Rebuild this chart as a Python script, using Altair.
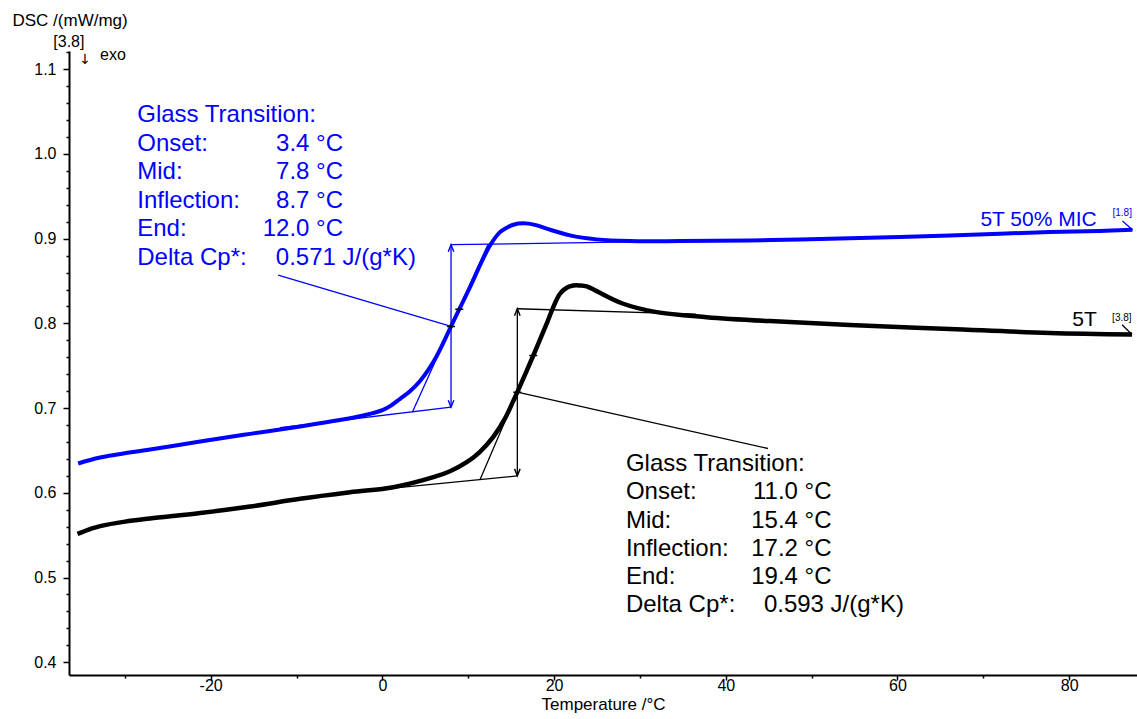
import altair as alt
import pandas as pd

FONT = "Liberation Sans"
BLUE = "#0000ff"
BLACK = "#000000"

# ---- measured curves (Temperature / °C, DSC / (mW/mg)) ----
blue_T = [-35.43, -32.87, -27.05, -21.22, -15.40, -9.58, -4.14, -2.00, 0.08, 1.00, 2.06, 3.22,
          4.39, 6.14, 8.00, 8.96, 10.21, 11.37, 12.54, 13.70, 14.48, 15.25, 16.42, 17.78,
          19.14, 21.85, 24.96, 28.84, 34.66, 42.81, 48.63, 60.27, 66.10, 77.74, 83.56, 87.37]
blue_dsc = [0.6346, 0.6416, 0.6511, 0.6605, 0.6696, 0.6783, 0.6874, 0.6918, 0.6980, 0.7030, 0.7110, 0.7200,
            0.7320, 0.7580, 0.7964, 0.8168, 0.8428, 0.8685, 0.8921, 0.9078, 0.9130, 0.9165, 0.9181, 0.9163,
            0.9118, 0.9039, 0.8992, 0.8972, 0.8972, 0.8980, 0.8992, 0.9021, 0.9039, 0.9078, 0.9092, 0.9106]

black_T = [-35.51, -34.03, -32.87, -29.96, -27.05, -21.22, -15.40, -9.58, -3.76, 1.28, 5.94,
           7.88, 9.83, 11.37, 12.92, 14.29, 15.25, 15.72, 17.58, 19.14, 19.91, 20.69, 21.47,
           22.24, 23.02, 23.80, 24.96, 28.06, 31.95, 37.77, 45.14, 54.45, 66.10, 77.74, 87.32]
black_dsc = [0.5515, 0.5572, 0.5607, 0.5660, 0.5696, 0.5761, 0.5838, 0.5929, 0.6006, 0.6066, 0.6184,
             0.6255, 0.6361, 0.6484, 0.6660, 0.6879, 0.7085, 0.7188, 0.7621, 0.7996, 0.8192, 0.8350, 0.8421,
             0.8448, 0.8448, 0.8437, 0.8381, 0.8232, 0.8133, 0.8074, 0.8027, 0.7982, 0.7934, 0.7887, 0.7869]

# ---- glass transition evaluation (construction lines) ----
seg_T1 = [-11.91, 3.49, 8.00, 8.00, -12.14, 86.20,
          0.08, 11.37, 15.72, 15.72, 15.72, 86.16]
seg_v1 = [0.6768, 0.6952, 0.8929, 0.7011, 0.8569, 0.9208,
          0.6043, 0.6153, 0.8173, 0.6200, 0.7188, 0.7984]
seg_T2 = [8.00, 12.29, 34.66, 8.00, 8.00, 87.37,
          15.72, 19.85, 36.50, 15.72, 44.91, 87.32]
seg_v2 = [0.7011, 0.8929, 0.8972, 0.8929, 0.7964, 0.9106,
          0.6200, 0.8165, 0.8110, 0.8173, 0.6523, 0.7869]
seg_color = [BLUE] * 6 + [BLACK] * 6

arrow_up_T = [8.00, 15.72]
arrow_up_v = [0.8929, 0.8173]
arrow_dn_T = [8.00, 15.72]
arrow_dn_v = [0.7011, 0.6200]
arrow_color = [BLUE, BLACK]

marker_T = [8.00, 8.96, 15.72, 17.58]
marker_v = [0.7964, 0.8168, 0.7188, 0.7621]

# ---- result tables ----
row_labels = ["Glass Transition:", "Onset:", "Mid:", "Inflection:", "End:", "Delta Cp*:"]
blue_values = ["", "3.4 °C", "7.8 °C", "8.7 °C", "12.0 °C", ""]
blue_dcp = "0.571 J/(g*K)"
black_values = ["", "11.0 °C", "15.4 °C", "17.2 °C", "19.4 °C", ""]
black_dcp = "0.593 J/(g*K)"

# anchors of the two tables (data coordinates)
blue_tab = dict(label_T=-28.55, value_T=-4.58, dcp_T=-12.41, v0=1.0377, step=0.03367)
black_tab = dict(label_T=28.37, value_T=52.32, dcp_T=44.44, v0=0.6255, step=0.03331)

curve_names = ["5T 50% MIC", "5T"]
curve_name_T = [83.21, 83.21]
curve_name_v = [0.9145, 0.7964]
curve_tag = ["[1.8]", "[3.8]"]
curve_tag_T = [85.04, 85.00]
curve_tag_v = [0.9263, 0.8023]
curve_colors = [BLUE, BLACK]

# ---- build tables ----
blue_df = pd.DataFrame({"T": blue_T, "v": blue_dsc})
black_df = pd.DataFrame({"T": black_T, "v": black_dsc})
seg_df = pd.DataFrame({"T": seg_T1, "v": seg_v1, "T2": seg_T2, "v2": seg_v2, "c": seg_color})
up_df = pd.DataFrame({"T": arrow_up_T, "v": arrow_up_v, "c": arrow_color})
dn_df = pd.DataFrame({"T": arrow_dn_T, "v": arrow_dn_v, "c": arrow_color})
mk_df = pd.DataFrame({"T": marker_T, "v": marker_v})


def table_rows(values, dcp, tab, color):
    left, right = [], []
    for i, lab in enumerate(row_labels):
        v = tab["v0"] - i * tab["step"]
        left.append({"T": tab["label_T"], "v": v, "t": lab, "c": color})
        if values[i]:
            right.append({"T": tab["value_T"], "v": v, "t": values[i], "c": color})
    left.append({"T": tab["dcp_T"], "v": tab["v0"] - 5 * tab["step"], "t": dcp, "c": color})
    return left, right


bl, br = table_rows(blue_values, blue_dcp, blue_tab, BLUE)
kl, kr = table_rows(black_values, black_dcp, black_tab, BLACK)
left_txt = pd.DataFrame(bl + kl)
right_txt = pd.DataFrame(br + kr)
name_df = pd.DataFrame({"T": curve_name_T, "v": curve_name_v, "t": curve_names, "c": curve_colors})
tag_df = pd.DataFrame({"T": curve_tag_T, "v": curve_tag_v, "t": curve_tag, "c": curve_colors})

# ---- scales and axes ----
x_scale = alt.Scale(domain=[-36.5, 87.9], nice=False, zero=False)
y_scale = alt.Scale(domain=[0.3849, 1.1216], nice=False, zero=False)

x_ticks = [-30, -20, -10, 0, 10, 20, 30, 40, 50, 60, 70, 80]
y_ticks = [round(0.40 + 0.02 * i, 2) for i in range(37)]
x_major = "datum.value % 20 == 0"
y_major = "abs(datum.value * 10 - round(datum.value * 10)) < 0.001"

common_axis = dict(
    domainColor=BLACK, domainWidth=2, tickColor=BLACK, tickWidth=1.5,
    labelColor=BLACK, labelFont=FONT, labelFontSize=16, titleFont=FONT,
    titleFontSize=17, titleFontWeight="normal", titleColor=BLACK,
    grid=False, labelFlush=False, labelOverlap=False,
)

x_axis = alt.Axis(
    values=x_ticks,
    labelExpr=f"{x_major} ? '' + datum.value : ''",
    tickSize={"condition": {"test": x_major, "value": 5}, "value": 3},
    labelPadding=-3,
    title="Temperature /°C",
    titleBaseline="alphabetic", titleY=34,
    **common_axis,
)
y_axis = alt.Axis(
    values=y_ticks,
    labelExpr=f"{y_major} ? format(datum.value, '.1f') : ''",
    tickSize={"condition": {"test": y_major, "value": 6}, "value": 3},
    labelPadding=7,
    title="DSC /(mW/mg)",
    titleAngle=0, titleAlign="left", titleBaseline="alphabetic",
    titleX=-57, titleY=-26,
    **common_axis,
)

X = alt.X("T:Q", scale=x_scale, axis=x_axis)
Y = alt.Y("v:Q", scale=y_scale, axis=y_axis)

blue_line = alt.Chart(blue_df).mark_line(color=BLUE, strokeWidth=4, interpolate="catmull-rom").encode(
    x=X, y=Y
)
black_line = alt.Chart(black_df).mark_line(color=BLACK, strokeWidth=4.5, interpolate="catmull-rom").encode(
    x=X, y=Y
)

segs = alt.Chart(seg_df).mark_rule(strokeWidth=1.3).encode(
    x=X, y=Y, x2="T2:Q", y2="v2:Q", color=alt.Color("c:N", scale=None)
)
ups = alt.Chart(up_df).mark_point(
    shape="M-0.4,1L0,0L0.4,1", size=196, filled=False, strokeWidth=1.4, opacity=1
).encode(x=X, y=Y, color=alt.Color("c:N", scale=None))
dns = alt.Chart(dn_df).mark_point(
    shape="M-0.4,-1L0,0L0.4,-1", size=196, filled=False, strokeWidth=1.4, opacity=1
).encode(x=X, y=Y, color=alt.Color("c:N", scale=None))
markers = alt.Chart(mk_df).mark_point(
    shape="M-1,0L1,0M0,-0.5L0,0.5", size=64, filled=False, strokeWidth=1.5, color=BLACK, opacity=1
).encode(x=X, y=Y)

left_text = alt.Chart(left_txt).mark_text(
    align="left", baseline="alphabetic", font=FONT, fontSize=24
).encode(x=X, y=Y, text="t:N", color=alt.Color("c:N", scale=None))
right_text = alt.Chart(right_txt).mark_text(
    align="right", baseline="alphabetic", font=FONT, fontSize=24
).encode(x=X, y=Y, text="t:N", color=alt.Color("c:N", scale=None))
names = alt.Chart(name_df).mark_text(
    align="right", baseline="alphabetic", font=FONT, fontSize=21
).encode(x=X, y=Y, text="t:N", color=alt.Color("c:N", scale=None))
tags = alt.Chart(tag_df).mark_text(
    align="left", baseline="alphabetic", font=FONT, fontSize=10
).encode(x=X, y=Y, text="t:N", color=alt.Color("c:N", scale=None))

# decorations above the y axis
deco_df = pd.DataFrame({"t": ["[3.8]"]})
deco1 = alt.Chart(deco_df).mark_text(
    align="left", baseline="alphabetic", font=FONT, fontSize=16, color=BLACK
).encode(x=alt.value(-15.7), y=alt.value(-4.3), text="t:N")
exo_df = pd.DataFrame({"t": ["exo"]})
deco2 = alt.Chart(exo_df).mark_text(
    align="left", baseline="alphabetic", font=FONT, fontSize=16, color=BLACK
).encode(x=alt.value(31), y=alt.value(9), text="t:N")
arr_df = pd.DataFrame({"t": ["↓"]})
deco3 = alt.Chart(arr_df).mark_text(
    align="center", baseline="alphabetic", font="DejaVu Sans", fontSize=14, color=BLACK
).encode(x=alt.value(16), y=alt.value(13), text="t:N")

chart = alt.layer(
    segs, ups, dns, blue_line, black_line, markers,
    left_text, right_text, names, tags, deco1, deco2, deco3,
).properties(
    width=1068, height=624,
    padding={"left": 69, "top": 51, "right": 0, "bottom": 44},
    autosize=alt.AutoSizeParams(type="none"),
    background="white",
).configure_view(stroke=None)

chart.save("out.html", embed_options={"renderer": "svg", "actions": False})
